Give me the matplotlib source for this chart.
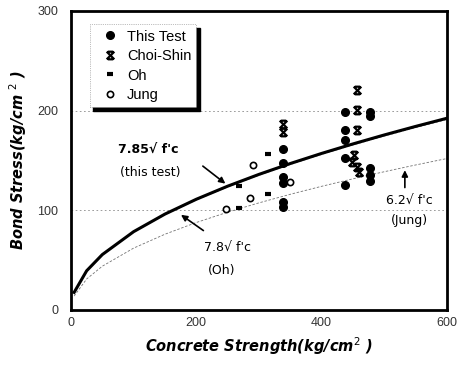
import numpy as np
import matplotlib
matplotlib.use("Agg")
import matplotlib.pyplot as plt
from matplotlib.path import Path
from matplotlib.patches import Rectangle

plt.rcParams['font.family'] = ['Liberation Sans', 'DejaVu Sans']

# measured bond stress (kg/cm2) against concrete strength (kg/cm2)
this_fc = [338, 338, 338, 338, 338, 338, 437, 437, 437, 437, 437, 477, 477, 477, 477, 477]
this_tau = [161, 147, 133, 127, 108, 103, 199, 181, 170, 152, 125, 199, 195, 142, 135, 129]

choi_fc = [338, 338, 338, 456, 456, 456, 452, 448, 456, 460]
choi_tau = [187, 179, 130, 221, 201, 181, 155, 148, 143, 138]

oh_fc = [315, 268, 315, 268]
oh_tau = [156, 124, 116, 102]

jung_fc = [290, 286, 247, 350]
jung_tau = [145, 112, 101, 128]

# design curves: tau = k * sqrt(fc)
curve_fc = np.array([5, 25, 50, 100, 150, 200, 250, 300, 350, 400, 450, 500, 550, 600])
k_this = 7.85
k_oh = 7.8
k_jung = 6.2

# X with a bar on top and bottom
choi_marker = Path(
    [(-1, -1), (1, 1), (-1, 1), (1, -1), (-0.7, 1), (0.7, 1), (-0.7, -1), (0.7, -1)],
    [Path.MOVETO, Path.LINETO] * 4)

lab_font = dict(family='DejaVu Sans', fontsize=10.5, fontweight='bold', style='italic')
note_font = dict(family='DejaVu Sans', fontsize=9)

fig = plt.figure(figsize=(4.64, 3.65), dpi=100)
ax = fig.add_axes([0.153, 0.151, 0.81, 0.819])

for y in [100, 200]:
    ax.axhline(y, color='0.55', lw=0.6, ls=(0, (2, 3)), zorder=0)

ax.plot(curve_fc, k_this * np.sqrt(curve_fc), color='black', lw=2.2, zorder=3)
ax.plot(curve_fc, k_oh * np.sqrt(curve_fc), color='0.45', lw=0.6, ls=(0, (3, 2)), zorder=2)
ax.plot(curve_fc, k_jung * np.sqrt(curve_fc), color='0.45', lw=0.6, ls=(0, (3, 2)), zorder=2)

ax.plot(this_fc, this_tau, 'o', color='black', ms=5.5, ls='none', label='This Test', zorder=4)
ax.plot(choi_fc, choi_tau, marker=choi_marker, color='black', ms=5.5, mew=1.6, ls='none',
        label='Choi-Shin', zorder=4)
ax.plot(oh_fc, oh_tau, marker='_', color='black', ms=5, mew=3, ls='none', label='Oh', zorder=4)
ax.plot(jung_fc, jung_tau, 'o', mfc='white', mec='black', ms=4.5, mew=1.2, ls='none',
        label='Jung', zorder=4)

# curve labels
ax.text(123, 160, "7.85\u221a f'c", ha='center', va='center', family='DejaVu Sans',
        fontsize=9, fontweight='bold')
ax.text(126, 138, "(this test)", ha='center', va='center', **note_font)
ax.annotate('', xy=(250, 125), xytext=(207, 146),
            arrowprops=dict(arrowstyle='-|>', color='black', lw=1.2, mutation_scale=9))

ax.text(250, 63, "7.8\u221a f'c", ha='center', va='center', **note_font)
ax.text(240, 40, "(Oh)", ha='center', va='center', **note_font)
ax.annotate('', xy=(172, 97), xytext=(215, 78),
            arrowprops=dict(arrowstyle='-|>', color='black', lw=1.2, mutation_scale=9))

ax.text(541, 110, "6.2\u221a f'c", ha='center', va='center', **note_font)
ax.text(541, 90, "(Jung)", ha='center', va='center', **note_font)
ax.annotate('', xy=(533, 143), xytext=(533, 120),
            arrowprops=dict(arrowstyle='-|>', color='black', lw=1.2, mutation_scale=9))

ax.set_xlim(0, 600)
ax.set_ylim(0, 300)
ax.set_xticks([0, 200, 400, 600])
ax.set_yticks([0, 100, 200, 300])
ax.tick_params(length=0, labelsize=9, labelcolor='0.2')
ax.tick_params(axis='y', pad=9)
ax.tick_params(axis='x', pad=5)
for s in ax.spines.values():
    s.set_linewidth(2)

ax.set_xlabel('Concrete Strength(kg/cm$^2$ )', labelpad=5, **lab_font)
ax.set_ylabel('Bond Stress(kg/cm $^2$ )', labelpad=6, **lab_font)

leg = ax.legend(loc='upper left', bbox_to_anchor=(0.05, 0.955), borderaxespad=0,
                fontsize=10.5, frameon=True, fancybox=False, handlelength=2.1,
                handletextpad=0.1, labelspacing=0.38, borderpad=0.35, framealpha=1)
leg.get_frame().set_edgecolor('0.5')
leg.get_frame().set_linewidth(0.5)
leg.get_frame().set_linestyle(':')
leg.set_zorder(6)

# solid black drop shadow behind the legend box
fig.canvas.draw()
bb = leg.get_window_extent().transformed(ax.transAxes.inverted())
dx, dy = 3.5 / 376, -3.5 / 299
ax.add_patch(Rectangle((bb.x0 + dx, bb.y0 + dy), bb.width, bb.height,
                       transform=ax.transAxes, color='black', zorder=5, clip_on=False))

fig.savefig('out.png', dpi=100)
